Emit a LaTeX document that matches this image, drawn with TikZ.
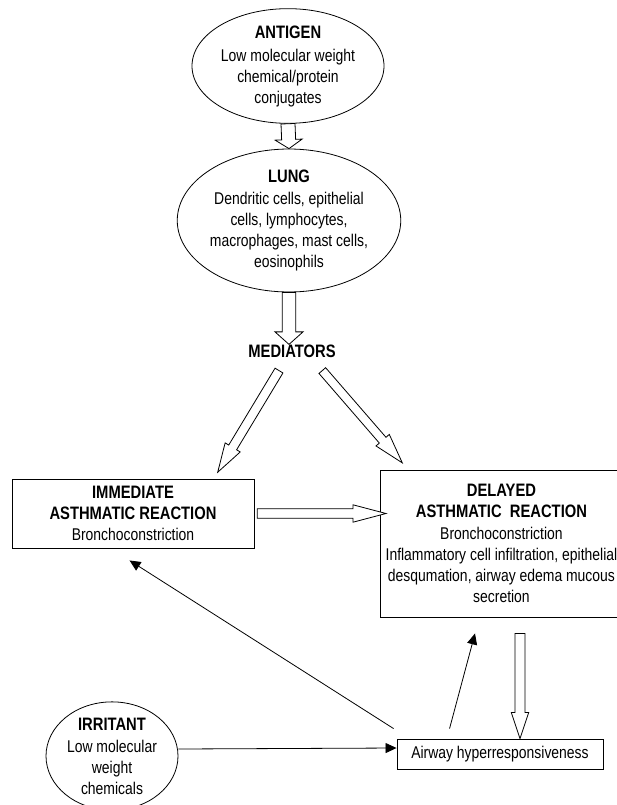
\documentclass[tikz,border=0pt]{standalone}
\usepackage{fontspec}
\setmainfont{Liberation Sans}[FakeStretch=0.82]
\usetikzlibrary{calc,shapes.geometric,arrows.meta}
\newcommand\regfont{\fontsize{17}{21}\selectfont}
\newcommand\hdfont{\fontsize{18}{21}\selectfont\bfseries}
% hollow block arrow: #1 tail, #2 tip, #3 shaft half width, #4 head half width, #5 head length
\newcommand\blockarrow[5]{%
  \coordinate (hA) at #1;
  \coordinate (hB) at #2;
  \coordinate (hM) at ($(hB)!#5!(hA)$);
  \draw[hollowarrow] ($(hA)!#3!90:(hB)$) -- ($(hM)!#3!-90:(hA)$) -- ($(hM)!#4!-90:(hA)$)
    -- (hB) -- ($(hM)!#4!90:(hA)$) -- ($(hM)!#3!90:(hA)$) -- ($(hA)!#3!-90:(hB)$) -- cycle;
}
\begin{document}
\begin{tikzpicture}[x=1pt,y=-1pt,
  every node/.style={font=\regfont, align=center, text=black},
  oval/.style={ellipse, draw, line width=0.8pt, inner sep=0pt},
  boxnode/.style={rectangle, draw, line width=0.9pt, inner sep=1pt},
  hollowarrow/.style={draw, fill=white, line width=0.8pt, line join=miter},
  solidarrow/.style={draw, line width=0.8pt, -{Triangle[length=11pt,width=10pt]}}]
\useasboundingbox (0,0) rectangle (616,805);

\node[oval, minimum width=192pt, minimum height=104pt] (antigen) at (288,66)
  {{\hdfont ANTIGEN}\\[2pt]Low molecular weight\\chemical/protein\\conjugates};
\node[oval, minimum width=204pt, minimum height=131pt] (lung) at (289,220.5)
  {{\hdfont LUNG}\\[1pt]Dendritic cells, epithelial\\cells, lymphocytes,\\macrophages, mast cells,\\eosinophils};
\node[inner sep=0pt, font=\hdfont] (mediators) at (292,351) {MEDIATORS};
\node[boxnode, minimum width=242pt, minimum height=69pt] (immediate) at (133,513.5)
  {{\hdfont IMMEDIATE}\\{\hdfont ASTHMATIC REACTION}\\Bronchoconstriction};
\node[boxnode, anchor=west, minimum width=242pt, minimum height=147pt] (delayed) at (380,543.5)
  {{\hdfont DELAYED}\\{\hdfont ASTHMATIC\ \ REACTION}\\[1pt]Bronchoconstriction\\Inflammatory cell infiltration, epithelial\\desqumation, airway edema mucous\\secretion};
\node[boxnode, minimum width=206pt, minimum height=30pt] (airway) at (500,754)
  {Airway hyperresponsiveness};
\node[oval, minimum width=132pt, minimum height=104pt] (irritant) at (112,756)
  {{\hdfont IRRITANT}\\[1pt]Low molecular\\weight\\chemicals};

% hollow arrows
\blockarrow{(antigen.south)}{(lung.north)}{7pt}{13.5pt}{9pt}
\blockarrow{(lung.south)}{($(lung.south)+(0,52)$)}{6.7pt}{14pt}{12.5pt}
\blockarrow{($(mediators.south)+(-13,13)$)}{($(immediate.north)+(84.7,-6.3)$)}{4.6pt}{8.8pt}{29pt}
\blockarrow{($(mediators.south)+(30.3,13)$)}{($(delayed.north west)+(22.3,-6.7)$)}{4.4pt}{8.8pt}{30pt}
\blockarrow{($(immediate.east)+(2.7,0)$)}{($(immediate.east -| delayed.west)+(6,0)$)}{4.7pt}{8.7pt}{33pt}
\blockarrow{($(delayed.south west)+(140,16)$)}{($(airway.north)+(20,0)$)}{5pt}{8.7pt}{26pt}

% solid arrows
\draw[solidarrow] ($(irritant.east)+(0,-7)$) -- ($(airway.west)+(0,-6)$);
\draw[solidarrow] ($(airway.north west)+(-3,-10)$) -- ($(immediate.south west)+(118,12)$);
\draw[solidarrow] ($(airway.north west)+(53,-10)$) -- ($(delayed.south west)+(95,16)$);
\end{tikzpicture}
\end{document}
